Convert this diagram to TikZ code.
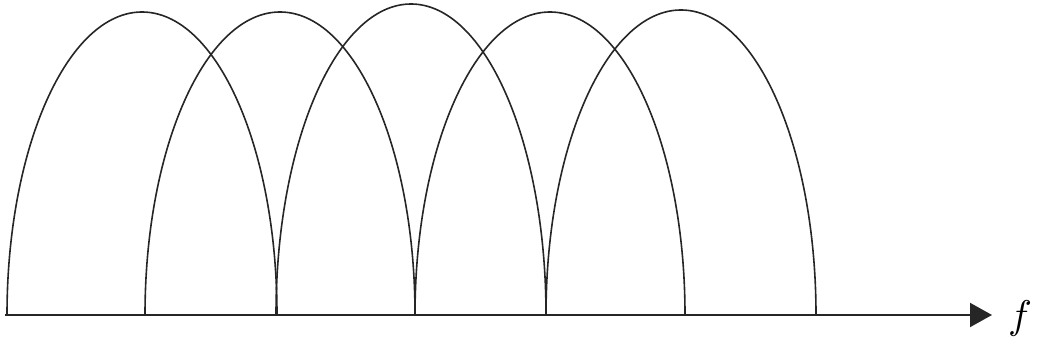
\documentclass[tikz,border=0pt]{standalone}
\usetikzlibrary{arrows.meta, positioning}

\begin{document}
\begin{tikzpicture}[
    x=1pt, y=1pt,
    lobe/.style={draw=black!85, line width=1.6pt},
    axis/.style={draw=black!85, line width=2pt, -{Triangle[length=22pt, width=24pt]}}
]
    \useasboundingbox (0,0) rectangle (1041,347);

    % Eje de frecuencia
    \coordinate (origin) at (5,32);
    \node[anchor=center, inner sep=0pt] (flabel) at (1020,28) {\scalebox{4}{$f$}};
    \coordinate (axisend) at (992,32);
    \draw[axis] (origin) -- (axisend);

    % Subportadoras
    \foreach \xl/\h in {7/303, 145/303, 276/311, 415/303, 546/305}{
        \draw[lobe] (\xl,32) arc[start angle=180, end angle=0, x radius=135, y radius=\h];
    }

\end{tikzpicture}
\end{document}
